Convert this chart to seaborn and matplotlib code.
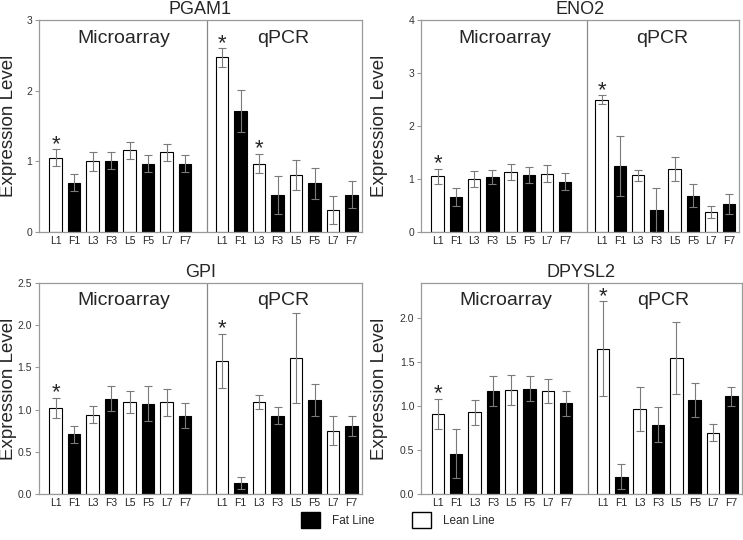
import numpy as np
import pandas as pd
import seaborn as sns
import matplotlib.pyplot as plt
from matplotlib.patches import Patch

sns.set_style("white")
plt.rcParams['font.family'] = ['Liberation Sans', 'DejaVu Sans']

labels = ["L1", "F1", "L3", "F3", "L5", "F5", "L7", "F7"]
lines = ["Lean", "Fat"] * 8
positions = [0, 1, 2, 3, 4, 5, 6, 7, 9, 10, 11, 12, 13, 14, 15, 16]

# microarray (8) then qPCR (8)
pgam1 = [1.05, 0.70, 1.00, 1.01, 1.16, 0.97, 1.13, 0.97,
         2.47, 1.71, 0.97, 0.53, 0.81, 0.69, 0.31, 0.53]
pgam1_err = [0.12, 0.12, 0.13, 0.12, 0.12, 0.12, 0.12, 0.12,
             0.13, 0.30, 0.14, 0.27, 0.21, 0.22, 0.20, 0.19]
pgam1_star = [0, 8, 10]

eno2 = [1.05, 0.67, 1.00, 1.04, 1.13, 1.08, 1.10, 0.95,
        2.50, 1.25, 1.07, 0.42, 1.19, 0.69, 0.38, 0.53]
eno2_err = [0.14, 0.17, 0.15, 0.13, 0.15, 0.15, 0.16, 0.16,
            0.08, 0.56, 0.10, 0.42, 0.22, 0.22, 0.12, 0.19]
eno2_star = [0, 8]

gpi = [1.02, 0.71, 0.94, 1.13, 1.09, 1.07, 1.09, 0.93,
       1.58, 0.13, 1.09, 0.93, 1.61, 1.11, 0.75, 0.81]
gpi_err = [0.12, 0.10, 0.10, 0.15, 0.13, 0.21, 0.16, 0.15,
           0.32, 0.07, 0.08, 0.10, 0.53, 0.19, 0.17, 0.12]
gpi_star = [0, 8]

dpysl2 = [0.91, 0.46, 0.93, 1.17, 1.18, 1.20, 1.17, 1.03,
          1.65, 0.20, 0.97, 0.79, 1.55, 1.07, 0.70, 1.11]
dpysl2_err = [0.17, 0.28, 0.14, 0.17, 0.17, 0.14, 0.14, 0.14,
              0.54, 0.14, 0.25, 0.20, 0.41, 0.19, 0.10, 0.11]
dpysl2_star = [0, 8]

panels = [
    ("PGAM1", pgam1, pgam1_err, pgam1_star, (0, 3), [0, 1, 2, 3], "%d",
     [0.0525, 0.570, 0.4345, 0.393], -0.068),
    ("ENO2", eno2, eno2_err, eno2_star, (0, 4), [0, 1, 2, 3, 4], "%d",
     [0.567, 0.570, 0.428, 0.393], -0.104),
    ("GPI", gpi, gpi_err, gpi_star, (0, 2.5), [0, 0.5, 1, 1.5, 2, 2.5], "%.1f",
     [0.0525, 0.085, 0.4345, 0.391], -0.068),
    ("DPYSL2", dpysl2, dpysl2_err, dpysl2_star, (0, 2.4), [0, 0.5, 1, 1.5, 2], "%.1f",
     [0.567, 0.085, 0.431, 0.391], -0.104),
]

fig = plt.figure(figsize=(7.43, 5.4), dpi=100)
spine_col = "#9a9a9a"

for title, vals, errs, stars, ylim, yticks, fmt, rect, labx in panels:
    ax = fig.add_axes(rect)
    df = pd.DataFrame({"pos": positions, "val": vals, "line": lines})
    sns.barplot(data=df, x="pos", y="val", hue="line", native_scale=True,
                dodge=False, palette={"Lean": "white", "Fat": "black"},
                edgecolor="black", linewidth=0.8, width=0.68, legend=False,
                ax=ax, zorder=2)
    ax.errorbar(positions, vals, yerr=errs, fmt="none", ecolor="#7a7a7a",
                elinewidth=0.8, capsize=3, capthick=0.8, zorder=3)
    for i in stars:
        ax.annotate("*", (positions[i], vals[i] + errs[i]), xytext=(0, -4),
                    textcoords="offset points", ha="center", va="bottom",
                    fontsize=16)
    ax.axvline(8.2, color="#888888", lw=0.9)
    ax.set_xlim(-0.9, 16.55)
    ax.set_ylim(*ylim)
    ax.set_yticks(yticks)
    ax.set_yticklabels([fmt % t for t in yticks])
    ax.set_xticks(positions)
    ax.set_xticklabels(labels * 2)
    ax.tick_params(axis="y", length=3, color=spine_col, labelsize=7.5,
                   labelcolor="#333333", pad=2, left=True)
    ax.tick_params(axis="x", length=0, labelsize=7.5, labelcolor="#222222", pad=3)
    for s in ax.spines.values():
        s.set_color(spine_col)
        s.set_linewidth(0.9)
    ax.set_xlabel("")
    ax.set_ylabel("Expression Level", fontsize=13.5)
    ax.yaxis.set_label_coords(labx, 0.5)
    ax.set_title(title, fontsize=13, pad=4)
    ax.text(3.7, 0.915, "Microarray", transform=ax.get_xaxis_transform(),
            ha="center", va="center", fontsize=14)
    ax.text(12.3, 0.915, "qPCR", transform=ax.get_xaxis_transform(),
            ha="center", va="center", fontsize=14)

handles = [Patch(facecolor="black", edgecolor="black", label="Fat Line"),
           Patch(facecolor="white", edgecolor="black", label="Lean Line")]
fig.legend(handles=handles, loc="center", bbox_to_anchor=(0.535, 0.037), ncol=2,
           frameon=False, fontsize=8.5, handlelength=1.6, handleheight=1.6,
           columnspacing=3.2, handletextpad=1.0)

fig.savefig("out.png", dpi=100)
